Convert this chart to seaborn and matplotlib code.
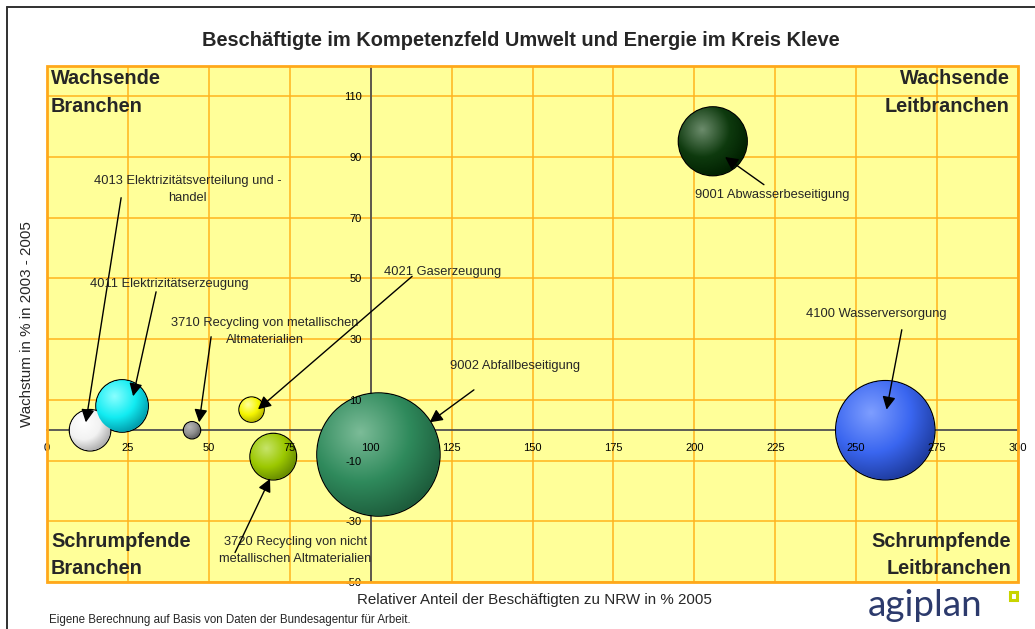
import numpy as np
import pandas as pd
import matplotlib
matplotlib.use("Agg")
import matplotlib.pyplot as plt
import seaborn as sns
from matplotlib.patches import Ellipse, Rectangle
from matplotlib.lines import Line2D
from matplotlib.colors import to_rgb

# ---------------- data ----------------
branchen = [
    "4013 Elektrizitätsverteilung und -\nhandel",
    "4011 Elektrizitätserzeugung",
    "3710 Recycling von metallischen\nAltmaterialien",
    "4021 Gaserzeugung",
    "3720 Recycling von nicht\nmetallischen Altmaterialien",
    "9002 Abfallbeseitigung",
    "4100 Wasserversorgung",
    "9001 Abwasserbeseitigung",
]
anteil_nrw = [13.3, 23.2, 44.8, 63.2, 69.9, 102.4, 259.0, 205.7]   # x: relativer Anteil zu NRW in %
wachstum = [0.0, 8.0, 0.0, 6.8, -8.7, -8.0, 0.0, 95.2]             # y: Wachstum 2003-2005 in %
beschaeftigte = [430, 690, 75, 160, 545, 3800, 2470, 1190]          # bubble size

x_ticks = [0, 25, 50, 75, 100, 125, 150, 175, 200, 225, 250, 275, 300]
y_ticks = [-50, -30, -10, 10, 30, 50, 70, 90, 110]

title = "Beschäftigte im Kompetenzfeld Umwelt und Energie im Kreis Kleve"
x_label = "Relativer Anteil der Beschäftigten zu NRW in % 2005"
y_label = "Wachstum in % in 2003 - 2005"
quelle = "Eigene Berechnung auf Basis von Daten der Bundesagentur für Arbeit."

# ---------------- styles ----------------
# (highlight, base, rim) per bubble
sphere_colors = [
    ("#FFFFFF", "#F2F2F2", "#A8A8A8"),
    ("#8AFFFF", "#12ECF2", "#0096A6"),
    ("#B8B8B8", "#909090", "#585858"),
    ("#FFFF9A", "#F6F600", "#B0B000"),
    ("#C6E46A", "#9CC800", "#628600"),
    ("#7CBC98", "#2F8A5C", "#1C5A3A"),
    ("#7E9EFF", "#3A66F0", "#1C3898"),
    ("#6C8C6C", "#0E3A0E", "#001E00"),
]

# label centre (x, y), arrow start (x, y), arrow tip (x, y) in data units
label_layout = [
    ((43.4, 79.3), (22.9, 76.6), (12.0, 2.6)),
    ((37.7, 48.3), (33.7, 45.6), (26.6, 11.2)),
    ((67.4, 32.4), (50.7, 30.8), (47.0, 2.6)),
    ((122.3, 52.0), (112.8, 50.7), (65.2, 6.9)),
    ((76.8, -39.7), (58.1, -40.3), (68.9, -16.0)),
    ((144.7, 21.2), (131.9, 13.3), (118.2, 2.6)),
    ((256.3, 38.4), (264.1, 33.1), (259.4, 6.8)),
    ((224.0, 77.4), (221.5, 80.9), (209.5, 90.0)),
]

W, H, DPI = 1035, 629, 100

sns.set_style("white")
plt.rcParams["font.family"] = ["Liberation Sans", "DejaVu Sans"]
plt.rcParams["axes.unicode_minus"] = False

fig = plt.figure(figsize=(W / DPI, H / DPI), dpi=DPI)
fig.patch.set_facecolor("white")


def fx(px):
    return px / W


def fy(py):
    return 1 - py / H


# plot area
left, right, top, bottom = 47, 1018, 66, 582
ax = fig.add_axes([fx(left), fy(bottom), (right - left) / W, (bottom - top) / H])
ax.set_facecolor("#FFFF99")
xmin, xmax, ymin, ymax = 0, 300, -50, 120

df = pd.DataFrame({
    "Branche": branchen,
    "Anteil": anteil_nrw,
    "Wachstum": wachstum,
    "Beschaeftigte": beschaeftigte,
})

# marker area (pt^2) proportional to employment; radius_px = sqrt(value)
k = 4 * (72 / DPI) ** 2
smin, smax = min(beschaeftigte), max(beschaeftigte)
palette = {b: c[1] for b, c in zip(branchen, sphere_colors)}

sns.scatterplot(
    data=df, x="Anteil", y="Wachstum", hue="Branche", palette=palette,
    size="Beschaeftigte", sizes=(k * smin, k * smax), size_norm=(smin, smax),
    edgecolor="black", linewidth=0.9, legend=False, zorder=2, ax=ax,
)

ax.set_xlim(xmin, xmax)
ax.set_ylim(ymin, ymax)

# grid
grid_col = "#FFB41E"
ax.vlines(x_ticks, ymin, ymax, colors=grid_col, lw=1.1, zorder=0.5)
ax.hlines(y_ticks, xmin, xmax, colors=grid_col, lw=1.1, zorder=0.5)
ax.grid(False)

# spherical shading of each bubble
px_per_x = (right - left) / (xmax - xmin)
px_per_y = (bottom - top) / (ymax - ymin)
n = 240
u = np.linspace(-1, 1, n)
U, V = np.meshgrid(u, u)
hx, hy = -0.3, 0.35
dist = np.clip(np.hypot(U - hx, V - hy) / (1 + np.hypot(hx, hy)), 0, 1)
for xv, yv, sv, cols in zip(anteil_nrw, wachstum, beschaeftigte, sphere_colors):
    r_px = np.sqrt(sv)
    light, base, rim = (np.array(to_rgb(c)) for c in cols)
    img = np.empty((n, n, 3))
    for ch in range(3):
        img[..., ch] = np.interp(dist, [0, 0.55, 1], [light[ch], base[ch], rim[ch]])
    rx, ry = r_px / px_per_x, r_px / px_per_y
    im = ax.imshow(img, extent=[xv - rx, xv + rx, yv - ry, yv + ry], origin="lower",
                   aspect="auto", interpolation="bilinear", zorder=2.1)
    clip = Ellipse((xv, yv), 2 * (r_px - 0.6) / px_per_x, 2 * (r_px - 0.6) / px_per_y,
                   transform=ax.transData, facecolor="none", edgecolor="none")
    ax.add_patch(clip)
    im.set_clip_path(clip)

ax.set_xlim(xmin, xmax)
ax.set_ylim(ymin, ymax)

# axes crossing at (100, 0)
axis_col = "#505050"
for s in ("top", "right"):
    ax.spines[s].set_visible(False)
ax.spines["left"].set_position(("data", 100))
ax.spines["bottom"].set_position(("data", 0))
for s in ("left", "bottom"):
    ax.spines[s].set_color(axis_col)
    ax.spines[s].set_linewidth(1.3)
    ax.spines[s].set_zorder(1.5)

ax.set_xticks(x_ticks)
ax.set_yticks(y_ticks)
ax.set_xticklabels([str(t) for t in x_ticks])
ax.set_yticklabels([str(t) for t in y_ticks])
ax.tick_params(axis="x", direction="out", length=3, width=1, color=axis_col,
               pad=6, labelsize=8, labelcolor="black")
ax.tick_params(axis="y", direction="out", length=3, width=1, color=axis_col,
               pad=3.5, labelsize=8, labelcolor="black")
ax.xaxis.set_zorder(3)
ax.yaxis.set_zorder(3)
ax.set_xlabel("")
ax.set_ylabel("")

# orange frame of the plot area
ax.add_patch(Rectangle((0, 0), 1, 1, transform=ax.transAxes, fill=False,
                       edgecolor="#FFA81A", lw=2, zorder=4, clip_on=False))

# labels with arrows
for text, (lpos, start, tip) in zip(branchen, label_layout):
    ax.text(lpos[0], lpos[1], text, ha="center", va="center", fontsize=9.3,
            linespacing=1.55, zorder=5)
    ax.annotate("", xy=tip, xytext=start,
                arrowprops=dict(arrowstyle="-|>,head_length=0.55,head_width=0.28",
                                color="black", lw=1, shrinkA=0, shrinkB=0,
                                mutation_scale=14),
                zorder=5)

# quadrant captions (baseline given for the lower line)
qkw = dict(fontsize=14.3, fontweight="bold", va="baseline", linespacing=1.56)
fig.text(fx(51), fy(111.7), "Wachsende\nBranchen", ha="left", **qkw)
fig.text(fx(1010), fy(111.7), "Wachsende\nLeitbranchen", ha="right", **qkw)
fig.text(fx(51), fy(574.3), "Schrumpfende\nBranchen", ha="left", **qkw)
fig.text(fx(1011), fy(574.3), "Schrumpfende\nLeitbranchen", ha="right", **qkw)

# titles and notes
fig.text(fx(521), fy(45.7), title, ha="center", va="baseline", fontsize=14.4, fontweight="bold")
fig.text(fx(534), fy(604), x_label, ha="center", va="baseline", fontsize=10.9)
fig.text(fx(27), fy(324), y_label, ha="center", va="center", rotation=90, fontsize=10.9)
fig.text(fx(49), fy(623), quelle, ha="left", va="baseline", fontsize=8.3)

# logo
fig.text(fx(868), fy(616), "agiplan", ha="left", va="baseline", fontsize=26.5,
         color="#2C3A6C", family=["Lato", "DejaVu Sans"])
fig.add_artist(Rectangle((fx(1010), fy(600)), 7 / W, 8 / H, transform=fig.transFigure,
                         fill=False, edgecolor="#C8D400", lw=2.2))

# chart frame
fig.add_artist(Line2D([fx(7), fx(7)], [0, fy(7)], color="#303030", lw=1.4,
                      transform=fig.transFigure))
fig.add_artist(Line2D([fx(7), 1], [fy(7), fy(7)], color="#303030", lw=1.4,
                      transform=fig.transFigure))

fig.savefig("out.png", dpi=DPI)
